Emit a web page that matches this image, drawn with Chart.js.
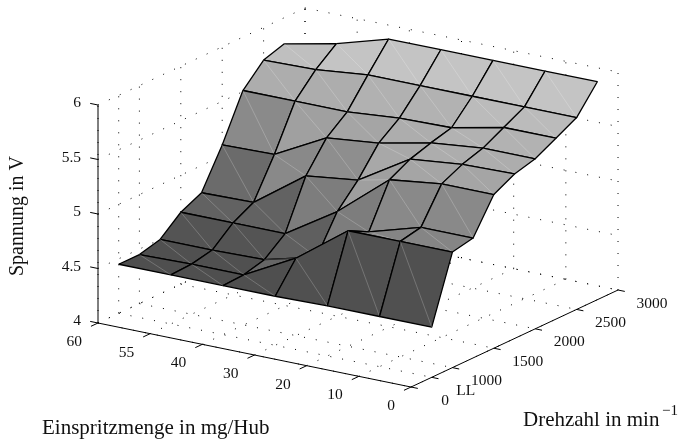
<!DOCTYPE html>
<html>
<head>
<meta charset="utf-8">
<style>
  html, body { margin: 0; padding: 0; background: #fff; }
  canvas { display: block; }
</style>
<script src="https://cdn.jsdelivr.net/npm/chart.js@4/dist/chart.umd.min.js"></script>
</head>
<body>
<canvas id="chart" width="678" height="441"></canvas>
<script>
// axis ticks, evenly spaced on the injection axis, not on the rpm axis
var injectionTicks = ["60", "55", "40", "30", "20", "10", "0"];
var rpmTicks = ["0", "LL", "1000", "1500", "2000", "2500", "3000"];
var rpmTickPos = [0, 0.5, 1, 2, 3, 4, 5];
var voltageTicks = [4, 4.5, 5, 5.5, 6];

// surface rows, one per rpm step, columns from 60 down to 0 mg/Hub
var rowPos = [0.5, 1, 1.5, 2, 2.5, 3, 3.5, 4, 4.5];
var row0 = [4.45, 4.45, 4.45, 4.45, 4.46, 4.46, 4.46];
var row1 = [4.45, 4.46, 4.46, 4.71, 5.06, 5.06, 5.06];
var row2 = [4.50, 4.50, 4.51, 4.63, 4.96, 5.10, 5.10];
var row3 = [4.66, 4.66, 4.66, 4.96, 5.35, 5.41, 5.41];
var row4 = [4.75, 4.76, 5.10, 5.16, 5.45, 5.50, 5.51];
var row5 = [5.10, 5.11, 5.36, 5.41, 5.51, 5.56, 5.56];
var row6 = [5.51, 5.51, 5.51, 5.55, 5.56, 5.66, 5.66];
var row7 = [5.70, 5.71, 5.76, 5.76, 5.76, 5.76, 5.76];
var row8 = [5.76, 5.86, 6.00, 6.00, 6.00, 6.00, 6.00];
var surface = [row0, row1, row2, row3, row4, row5, row6, row7, row8];

// fixed view of the box, orthographic
function project(u, v, z) {
  return {
    x: 98 + 52.17 * u + 41.4 * v,
    y: 323 + 10.67 * u - 19.4 * v - 109 * (z - 4)
  };
}

function grayFor(z) {
  var g = Math.round(80 + (z - 4.46) * 89);
  return "rgb(" + g + "," + g + "," + g + ")";
}

function lineSet(pts, color, width, dash) {
  return {
    data: pts,
    showLine: true,
    fill: false,
    borderColor: color,
    borderWidth: width,
    borderDash: dash || [],
    pointRadius: 0
  };
}

var datasets = [];

// quads, nearest first because chart.js paints the first dataset last
for (var j = 0; j < surface.length - 1; j++) {
  for (var u = 5; u >= 0; u--) {
    var a = project(u, rowPos[j], surface[j][u]);
    var b = project(u + 1, rowPos[j], surface[j][u + 1]);
    var c = project(u + 1, rowPos[j + 1], surface[j + 1][u + 1]);
    var d = project(u, rowPos[j + 1], surface[j + 1][u]);
    datasets.push(lineSet([d, b], "rgba(255,255,255,0.35)", 0.6));
    var quad = lineSet([a, b, c, d, a], "#000", 1.3);
    quad.fill = "shape";
    quad.backgroundColor = grayFor(surface[j][u + 1]);
    quad.borderJoinStyle = "round";
    datasets.push(quad);
  }
}

// solid axes and ticks
var black = "#000";
datasets.push(lineSet([project(0, 0, 4), project(0, 0, 6)], black, 1));
datasets.push(lineSet([project(0, 0, 4), project(6, 0, 4)], black, 1));
datasets.push(lineSet([project(6, 0, 4), project(6, 5, 4)], black, 1));
voltageTicks.forEach(function (z) {
  datasets.push(lineSet([project(0, 0, z), project(-0.15, 0, z)], black, 1));
});
injectionTicks.forEach(function (t, i) {
  datasets.push(lineSet([project(i, 0, 4), project(i, -0.17, 4)], black, 1));
});
rpmTickPos.forEach(function (v) {
  datasets.push(lineSet([project(6, v, 4), project(6.13, v, 4)], black, 1));
});

// dotted grid on the three back planes
var dots = [1, 11];
var dotColor = "#000";
voltageTicks.forEach(function (z) {
  datasets.push(lineSet([project(0, 0, z), project(0, 5, z)], dotColor, 1, dots));
  datasets.push(lineSet([project(0, 5, z), project(6, 5, z)], dotColor, 1, dots));
});
rpmTickPos.forEach(function (v) {
  datasets.push(lineSet([project(0, v, 4), project(0, v, 6)], dotColor, 1, dots));
  datasets.push(lineSet([project(0, v, 4), project(6, v, 4)], dotColor, 1, dots));
});
injectionTicks.forEach(function (t, i) {
  datasets.push(lineSet([project(i, 5, 4), project(i, 5, 6)], dotColor, 1, dots));
  datasets.push(lineSet([project(i, 0, 4), project(i, 5, 4)], dotColor, 1, dots));
});

var boxText = {
  id: "boxText",
  afterDatasetsDraw: function (chart) {
    var ctx = chart.ctx;
    var sx = chart.scales.x, sy = chart.scales.y;
    function put(text, x, y, align) {
      ctx.textAlign = align;
      ctx.fillText(text, sx.getPixelForValue(x), sy.getPixelForValue(y));
    }
    ctx.save();
    ctx.fillStyle = "#111";
    ctx.textBaseline = "middle";
    ctx.font = "15.5px 'Liberation Serif'";
    voltageTicks.forEach(function (z) {
      var p = project(0, 0, z);
      put(String(z), p.x - 17, p.y - 2, "right");
    });
    injectionTicks.forEach(function (t, i) {
      var p = project(i, 0, 4);
      put(t, p.x - 16, p.y + 19, "right");
    });
    rpmTicks.forEach(function (t, i) {
      var p = project(6, rpmTickPos[i], 4);
      put(t, p.x + 34, p.y + 13.5, "center");
    });
    ctx.font = "21px 'Liberation Serif'";
    put("Einspritzmenge in mg/Hub", 42, 428, "left");
    put("Drehzahl in min", 523, 420, "left");
    ctx.font = "15px 'Liberation Serif'";
    put("\u22121", 662, 411, "left");
    ctx.font = "20px 'Liberation Serif'";
    ctx.translate(sx.getPixelForValue(18), sy.getPixelForValue(216));
    ctx.rotate(-Math.PI / 2);
    ctx.textAlign = "center";
    ctx.fillText("Spannung in V", 0, 0);
    ctx.restore();
  }
};

new Chart(document.getElementById("chart").getContext("2d"), {
  type: "scatter",
  data: { datasets: datasets },
  options: {
    responsive: false,
    animation: false,
    events: [],
    layout: { padding: 0 },
    elements: { line: { tension: 0 } },
    plugins: { legend: { display: false }, tooltip: { enabled: false } },
    scales: {
      x: { type: "linear", display: false, min: 0, max: 678 },
      y: { type: "linear", display: false, min: 0, max: 441, reverse: true }
    }
  },
  plugins: [boxText]
});
</script>
</body>
</html>
